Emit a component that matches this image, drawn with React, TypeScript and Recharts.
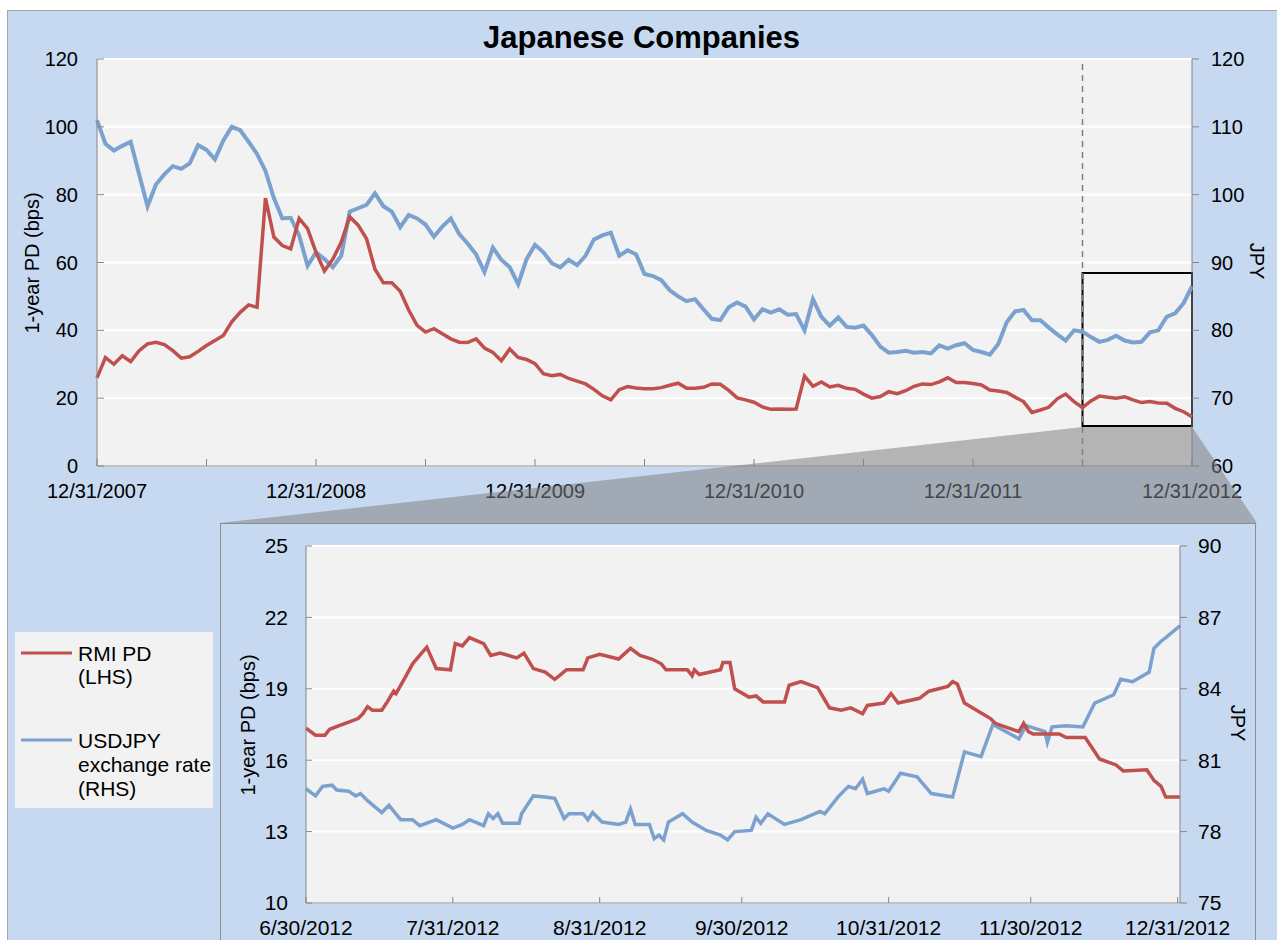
import { LineChart, Line, XAxis, YAxis, CartesianGrid, ReferenceLine, ReferenceArea } from 'recharts';

const FONT = '"Liberation Sans", Arial, Helvetica, sans-serif';
const RED = '#c0504d';
const BLUE = '#7ba1cf';
const AXIS = '#868686';
const PLOT_BG = '#f2f2f2';
const PANEL_BG = '#c6d9f1';

// Full period: one point every 1/26 year, 12/31/2007 .. 12/31/2012 (131 points)
const rmiPd = [
  26.0, 32.0, 30.0, 32.5, 30.8, 34.0, 36.0, 36.5, 35.8, 34.0,
  31.8, 32.2, 33.8, 35.5, 37.0, 38.5, 42.5, 45.3, 47.5, 46.8,
  79.0, 67.5, 65.0, 64.0, 73.0, 70.0, 63.0, 57.5, 61.0, 66.0,
  73.5, 71.0, 67.0, 58.0, 54.0, 54.0, 51.5, 46.0, 41.5, 39.5,
  40.5, 39.0, 37.5, 36.5, 36.4, 37.5, 34.8, 33.5, 31.0, 34.5,
  32.0, 31.4, 30.2, 27.2, 26.6, 27.0, 25.8, 25.0, 24.2, 22.6,
  20.7, 19.5, 22.5, 23.4, 23.0, 22.8, 22.8, 23.1, 23.8, 24.4,
  22.9, 22.9, 23.2, 24.2, 24.1, 22.3, 20.1, 19.5, 18.8, 17.4,
  16.7, 16.8, 16.7, 16.8, 26.5, 23.5, 24.8, 23.3, 23.8, 22.9,
  22.6, 21.2, 20.0, 20.5, 21.9, 21.3, 22.2, 23.5, 24.2, 24.0,
  24.8, 26.0, 24.6, 24.6, 24.3, 23.9, 22.4, 22.1, 21.7, 20.3,
  19.0, 15.8, 16.5, 17.3, 19.8, 21.2, 19.0, 17.2, 19.2, 20.6,
  20.3, 20.0, 20.4, 19.5, 18.7, 19.0, 18.6, 18.5, 17.0, 16.0,
  14.5,
];

const usdJpy = [
  111.0, 107.5, 106.5, 107.2, 107.8, 103.0, 98.3, 101.5, 103.0, 104.2,
  103.8, 104.6, 107.3, 106.6, 105.2, 108.0, 110.0, 109.5, 107.8, 106.0,
  103.5, 99.5, 96.5, 96.6, 94.0, 89.5, 91.5, 90.5, 89.3, 91.0,
  97.5, 98.0, 98.5, 100.2, 98.3, 97.5, 95.2, 97.0, 96.5, 95.6,
  93.8, 95.3, 96.5, 94.2, 92.8, 91.2, 88.6, 92.2, 90.4, 89.3,
  86.8, 90.5, 92.6, 91.5, 89.9, 89.3, 90.4, 89.6, 91.0, 93.4,
  94.0, 94.4, 91.0, 91.8, 91.2, 88.3, 88.0, 87.4, 85.9, 85.0,
  84.3, 84.6, 83.1, 81.7, 81.5, 83.4, 84.1, 83.5, 81.6, 83.1,
  82.6, 83.1, 82.3, 82.4, 80.0, 84.6, 82.0, 80.7, 81.9, 80.5,
  80.4, 80.7, 79.3, 77.6, 76.7, 76.8, 77.0, 76.7, 76.8, 76.6,
  77.8, 77.3, 77.8, 78.1, 77.1, 76.8, 76.4, 78.0, 81.2, 82.8,
  83.0, 81.5, 81.5, 80.4, 79.4, 78.5, 80.0, 79.8, 79.0, 78.3,
  78.6, 79.2, 78.5, 78.2, 78.3, 79.7, 80.0, 82.0, 82.5, 84.0,
  86.5,
];

// half-year ticks, labelled at year ends
const fullTicks = [0, 13, 26, 39, 52, 65, 78, 91, 104, 117, 130];
const fullTickLabels = ['12/31/2007', '', '12/31/2008', '', '12/31/2009', '', '12/31/2010', '', '12/31/2011', '', '12/31/2012'];
const pdTicks = [0, 20, 40, 60, 80, 100, 120];
const jpyTicks = [60, 70, 80, 90, 100, 110, 120];

// zoom window (6/30/2012 - 12/31/2012) marked on the full chart
const zoomStart = 117;
const zoomEnd = 130;
const zoomBoxPd = [11.8, 56.9];

// Zoomed period: day offsets from 6/30/2012
const zoomPdDays = [
  0, 2, 4, 5, 7, 9, 11, 12, 13, 14, 16, 17, 18.5, 19, 21, 22.5, 24, 25.5, 27.5, 30.5,
  31.5, 33, 34.5, 37.5, 39, 41, 44.5, 46, 48, 50.5, 52.5, 53.5, 55, 58.5, 59.5, 62, 66, 68.5, 70.5, 73,
  75, 76, 80.5, 81.5, 82, 83, 87.5, 88, 89.5, 90.5, 93.5, 95, 96.5, 101, 102, 104.5, 108, 110.5, 113, 115,
  117.5, 118.5, 122, 123.5, 125, 129.5, 131.5, 135.5, 136.5, 137.5, 139, 144.5, 145.5, 150.5, 151.5, 152.5, 153.5, 159, 160.5, 164.5,
  167.5, 171, 172.5, 177.5, 179, 180.5, 181.5, 184.5,
];
const zoomPd = [
  17.35, 17.05, 17.05, 17.3, 17.45, 17.6, 17.75, 17.95, 18.25, 18.1, 18.1, 18.4, 18.9, 18.8, 19.5, 20.05, 20.4, 20.75, 19.85, 19.8,
  20.9, 20.8, 21.15, 20.9, 20.4, 20.5, 20.3, 20.5, 19.85, 19.7, 19.4, 19.55, 19.8, 19.8, 20.3, 20.45, 20.25, 20.7, 20.4, 20.25,
  20.05, 19.8, 19.8, 19.55, 19.8, 19.6, 19.8, 20.1, 20.1, 19.0, 18.65, 18.7, 18.45, 18.45, 19.15, 19.3, 19.05, 18.2, 18.1, 18.2,
  17.95, 18.3, 18.4, 18.8, 18.4, 18.6, 18.9, 19.1, 19.3, 19.2, 18.4, 17.75, 17.55, 17.2, 17.55, 17.2, 17.1, 17.1, 16.95, 16.95,
  16.05, 15.8, 15.55, 15.6, 15.15, 14.9, 14.45, 14.45,
];

const zoomFxDays = [
  0, 2, 3.5, 5.5, 6.5, 9, 10.5, 11.5, 13, 16, 17.5, 20, 22.5, 24, 27.5, 31, 33, 34.5, 37.5, 38.5,
  39.5, 40.5, 41.5, 45, 45.5, 48, 50.5, 52.5, 54.5, 55.5, 58.5, 59.5, 60.5, 62.5, 66, 67.5, 68.5, 69.5, 72.5, 73.5,
  74.5, 75.5, 76.5, 79.5, 81.5, 84.5, 87.5, 89, 90.5, 94, 95, 96, 97.5, 101, 104.5, 108.5, 109.5, 112.5, 114.5, 116,
  117.5, 118.5, 122, 123, 125.5, 129, 132, 136.5, 139, 142.5, 145, 150.5, 152, 156, 156.5, 157.5, 160.5, 164, 166.5, 170.5,
  172, 174.5, 178, 179, 180.5, 181.5, 184.5,
];
const zoomFx = [
  79.8, 79.5, 79.9, 79.95, 79.75, 79.7, 79.5, 79.6, 79.3, 78.8, 79.1, 78.5, 78.5, 78.25, 78.5, 78.15, 78.3, 78.5, 78.25, 78.75,
  78.55, 78.75, 78.35, 78.35, 78.75, 79.5, 79.45, 79.4, 78.55, 78.75, 78.75, 78.5, 78.8, 78.4, 78.3, 78.4, 78.95, 78.3, 78.3, 77.7,
  77.85, 77.65, 78.4, 78.75, 78.4, 78.05, 77.85, 77.65, 78.0, 78.05, 78.6, 78.35, 78.75, 78.3, 78.5, 78.85, 78.75, 79.5, 79.9, 79.8,
  80.2, 79.6, 79.8, 79.7, 80.45, 80.3, 79.6, 79.45, 81.35, 81.15, 82.5, 81.9, 82.45, 82.2, 81.75, 82.4, 82.45, 82.4, 83.4, 83.75,
  84.4, 84.3, 84.7, 85.7, 86.0, 86.15, 86.65,
];

const zoomTicks = [0, 31, 62, 92, 123, 153, 184];
const zoomTickLabels = ['6/30/2012', '7/31/2012', '8/31/2012', '9/30/2012', '10/31/2012', '11/30/2012', '12/31/2012'];
const zoomPdTicks = [10, 13, 16, 19, 22, 25];
const zoomJpyTicks = [75, 78, 81, 84, 87, 90];

function FullChart() {
  const data = rmiPd.map((pd, i) => ({ i, pd, fx: usdJpy[i] }));
  const tickStyle = { fontSize: 20, fill: '#000', fontFamily: FONT };
  return (
    <LineChart width={1277} height={520} data={data} margin={{ top: 59, right: 25, bottom: 24, left: 37 }}>
      <CartesianGrid yAxisId="pd" vertical={false} stroke="#ffffff" strokeWidth={2} fill={PLOT_BG} fillOpacity={1} />
      <XAxis
        dataKey="i"
        type="number"
        domain={[0, 130]}
        ticks={fullTicks}
        interval={0}
        tickFormatter={(v) => fullTickLabels[fullTicks.indexOf(v)]}
        height={30}
        tickSize={-7}
        tickMargin={25}
        axisLine={{ stroke: AXIS }}
        tickLine={{ stroke: AXIS }}
        tick={tickStyle}
      />
      <YAxis
        yAxisId="pd"
        domain={[0, 120]}
        ticks={pdTicks}
        interval={0}
        width={60}
        tickSize={-7}
        tickMargin={26}
        axisLine={{ stroke: AXIS }}
        tickLine={{ stroke: AXIS }}
        tick={tickStyle}
      />
      <YAxis
        yAxisId="fx"
        orientation="right"
        domain={[60, 120]}
        ticks={jpyTicks}
        interval={0}
        width={60}
        tickSize={7}
        tickMargin={12}
        axisLine={{ stroke: AXIS }}
        tickLine={{ stroke: AXIS }}
        tick={tickStyle}
      />
      <ReferenceLine yAxisId="pd" x={zoomStart} stroke="#7f7f7f" strokeWidth={1.5} strokeDasharray="6 5" />
      <Line yAxisId="fx" dataKey="fx" stroke={BLUE} strokeWidth={4} dot={false} isAnimationActive={false} />
      <Line yAxisId="pd" dataKey="pd" stroke={RED} strokeWidth={3.5} dot={false} isAnimationActive={false} />
      <ReferenceArea
        yAxisId="pd"
        x1={zoomStart}
        x2={zoomEnd}
        y1={zoomBoxPd[0]}
        y2={zoomBoxPd[1]}
        fill="none"
        fillOpacity={0}
        stroke="#000"
        strokeWidth={2}
      />
    </LineChart>
  );
}

function ZoomChart() {
  const pdData = zoomPdDays.map((d, k) => ({ d, v: zoomPd[k] }));
  const fxData = zoomFxDays.map((d, k) => ({ d, v: zoomFx[k] }));
  const tickStyle = { fontSize: 21, fill: '#000', fontFamily: FONT };
  return (
    <LineChart width={1036} height={417} margin={{ top: 23, right: 16, bottom: 7, left: 26 }}>
      <CartesianGrid yAxisId="pd" vertical={false} stroke="#ffffff" strokeWidth={2} fill={PLOT_BG} fillOpacity={1} />
      <XAxis
        dataKey="d"
        type="number"
        domain={[0, 184.5]}
        ticks={zoomTicks}
        interval={0}
        tickFormatter={(v) => zoomTickLabels[zoomTicks.indexOf(v)]}
        height={30}
        tickSize={-6}
        tickMargin={23}
        axisLine={{ stroke: AXIS }}
        tickLine={{ stroke: AXIS }}
        tick={tickStyle}
      />
      <YAxis
        yAxisId="pd"
        domain={[10, 25]}
        ticks={zoomPdTicks}
        interval={0}
        width={60}
        tickSize={-6}
        tickMargin={24}
        axisLine={{ stroke: AXIS }}
        tickLine={{ stroke: AXIS }}
        tick={tickStyle}
      />
      <YAxis
        yAxisId="fx"
        orientation="right"
        domain={[75, 90]}
        ticks={zoomJpyTicks}
        interval={0}
        width={60}
        tickSize={7}
        tickMargin={11}
        axisLine={{ stroke: AXIS }}
        tickLine={{ stroke: AXIS }}
        tick={tickStyle}
      />
      <Line yAxisId="fx" data={fxData} dataKey="v" stroke={BLUE} strokeWidth={3.5} dot={false} isAnimationActive={false} />
      <Line yAxisId="pd" data={pdData} dataKey="v" stroke={RED} strokeWidth={3.5} dot={false} isAnimationActive={false} />
    </LineChart>
  );
}

export default function App() {
  const abs = { position: 'absolute' as const, left: 0, top: 0 };
  return (
    <div style={{ ...abs, width: 1277, height: 940, overflow: 'hidden', background: '#fff', fontFamily: FONT }}>
      {/* outer panel */}
      <div style={{ position: 'absolute', left: 7, top: 10, width: 1300, height: 1000, background: PANEL_BG, border: '1px solid #a6a6a6' }} />

      <div style={{ ...abs }}>
        <FullChart />
      </div>

      {/* zoom connector, title and axis titles of the full chart */}
      <svg width={1277} height={940} style={{ ...abs, pointerEvents: 'none' }} fontFamily={FONT}>
        <polygon points="1083,427 1192,427 1257,523 220,523" fill="#808080" fillOpacity={0.54} />
        <text x={641.5} y={48} textAnchor="middle" fontSize={31} fontWeight="bold" fill="#000">
          Japanese Companies
        </text>
        <text transform="translate(32,263) rotate(-90)" textAnchor="middle" dominantBaseline="central" fontSize={20} fill="#000">
          1-year PD (bps)
        </text>
        <text transform="translate(1257,261) rotate(90)" textAnchor="middle" dominantBaseline="central" fontSize={20} fill="#000">
          JPY
        </text>
      </svg>

      {/* inset box */}
      <div style={{ position: 'absolute', left: 220, top: 523, width: 1036, height: 500, background: PANEL_BG, border: '1px solid #8e8e8e', boxSizing: 'border-box' }} />
      <div style={{ position: 'absolute', left: 220, top: 523 }}>
        <ZoomChart />
      </div>

      <svg width={1277} height={940} style={{ ...abs, pointerEvents: 'none' }} fontFamily={FONT}>
        <text transform="translate(248,725) rotate(-90)" textAnchor="middle" dominantBaseline="central" fontSize={20} fill="#000">
          1-year PD (bps)
        </text>
        <text transform="translate(1238,723) rotate(90)" textAnchor="middle" dominantBaseline="central" fontSize={20} fill="#000">
          JPY
        </text>

        {/* legend */}
        <rect x={15} y={632} width={198} height={176} fill={PLOT_BG} />
        <line x1={21} y1={653} x2={72} y2={653} stroke={RED} strokeWidth={3} />
        <text x={78} y={660.5} fontSize={21} fill="#000">RMI PD</text>
        <text x={78} y={683.5} fontSize={21} fill="#000">(LHS)</text>
        <line x1={21} y1={740} x2={72} y2={740} stroke={BLUE} strokeWidth={3} />
        <text x={78} y={748} fontSize={21} fill="#000">USDJPY</text>
        <text x={78} y={772} fontSize={21} fill="#000">exchange rate</text>
        <text x={78} y={796} fontSize={21} fill="#000">(RHS)</text>
      </svg>
    </div>
  );
}
